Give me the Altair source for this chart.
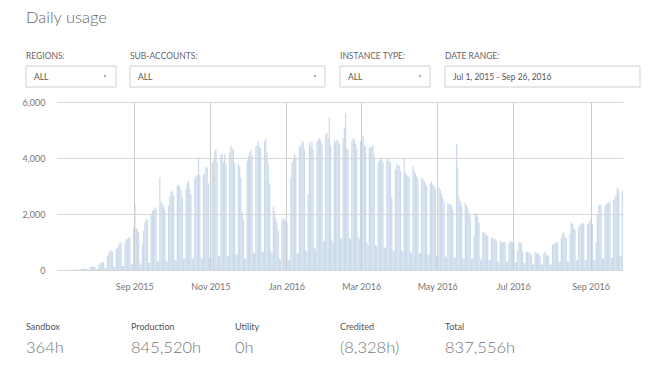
import altair as alt
import pandas as pd

# ---------------- data ----------------
START_DATE = "2015-07-01"
# Jul 1 - Jul 5, 2015 (Wed-Sun)
FIRST_DAYS = [2, 3, 3, 1, 1]
# one row per week, Monday..Sunday, starting Mon Jul 6, 2015
WEEKLY_HOURS = [
    [4, 5, 6, 6, 5, 2, 2],
    [10, 12, 15, 18, 16, 4, 4],
    [30, 35, 40, 50, 45, 10, 10],
    [80, 100, 120, 130, 110, 30, 30],
    [180, 220, 260, 300, 250, 60, 60],
    [500, 600, 680, 700, 650, 120, 120],
    [750, 800, 900, 1000, 950, 150, 150],
    [950, 1100, 1100, 1150, 1150, 200, 200],
    [1500, 2350, 1500, 1450, 1350, 250, 200],
    [900, 1400, 1700, 1800, 1800, 250, 250],
    [2000, 2100, 2150, 2250, 2200, 300, 300],
    [3300, 2450, 2350, 2250, 2150, 350, 300],
    [2300, 2600, 2800, 2800, 2650, 350, 350],
    [3000, 3050, 2950, 2850, 2600, 400, 400],
    [2900, 3100, 3200, 2900, 2700, 400, 400],
    [3300, 3350, 3400, 4050, 3400, 450, 400],
    [3400, 3450, 3700, 3650, 3100, 450, 450],
    [3800, 3900, 4250, 4300, 3850, 500, 500],
    [4100, 4150, 3850, 4150, 3800, 500, 500],
    [4200, 4450, 4300, 4350, 3800, 550, 550],
    [3800, 3700, 3300, 2100, 1800, 400, 400],
    [3900, 4050, 4200, 4300, 4100, 600, 600],
    [4400, 4450, 4600, 4400, 4350, 650, 650],
    [4600, 4700, 4200, 3800, 3100, 700, 600],
    [2250, 2100, 1850, 1700, 1400, 400, 350],
    [1800, 1850, 1800, 1750, 1700, 350, 350],
    [3300, 3850, 4000, 4150, 4050, 600, 600],
    [4400, 4450, 4600, 4550, 4300, 700, 650],
    [2700, 4550, 4400, 4600, 4300, 800, 750],
    [4600, 4650, 4700, 4650, 4500, 1000, 1050],
    [4850, 4900, 4700, 5450, 4450, 1100, 1000],
    [4650, 4550, 4650, 4600, 4500, 1150, 1100],
    [4700, 5100, 5600, 4350, 4300, 1150, 1100],
    [4600, 4700, 4650, 4500, 4300, 1200, 1100],
    [4600, 4700, 4800, 4450, 4400, 1000, 900],
    [4400, 4350, 4400, 4450, 4100, 900, 850],
    [3800, 3900, 4000, 3950, 3850, 800, 800],
    [3950, 4000, 3900, 3850, 2600, 700, 700],
    [3600, 3800, 3700, 3750, 3550, 700, 650],
    [4000, 3500, 3400, 3350, 3300, 650, 600],
    [3700, 3550, 3450, 3350, 3250, 600, 600],
    [3300, 3250, 3200, 3100, 3000, 550, 550],
    [3100, 3150, 3050, 3000, 2900, 500, 500],
    [2950, 2850, 2700, 2550, 2400, 500, 450],
    [2400, 2350, 2350, 2300, 2150, 450, 450],
    [4500, 3650, 2600, 2450, 2300, 450, 400],
    [2400, 2300, 2200, 2050, 1900, 400, 400],
    [1200, 2050, 2000, 1900, 1700, 400, 350],
    [1350, 1350, 1300, 1250, 1200, 350, 350],
    [1150, 1150, 1100, 1100, 1050, 300, 300],
    [1050, 1000, 1000, 1000, 980, 300, 300],
    [950, 1050, 1000, 980, 950, 280, 280],
    [700, 1000, 1000, 950, 650, 250, 250],
    [650, 650, 620, 600, 550, 200, 200],
    [650, 620, 600, 550, 480, 200, 200],
    [600, 650, 550, 520, 480, 200, 200],
    [900, 950, 950, 1000, 980, 300, 300],
    [1150, 1300, 1350, 1200, 1150, 300, 300],
    [1300, 1700, 1650, 1500, 1450, 350, 350],
    [1550, 1600, 1650, 1700, 1650, 350, 350],
    [1650, 1700, 1800, 1700, 1650, 350, 350],
    [1000, 2000, 2300, 2350, 2300, 400, 400],
    [2300, 2350, 2400, 2450, 2400, 450, 450],
    [2500, 2600, 2700, 2950, 2850, 500, 500],
]
# Mon Sep 26, 2016
LAST_DAYS = [2850]

Y_TICKS = [0, 2000, 4000, 6000]
X_TICK_MONTHS = [(2015, 9), (2015, 11), (2016, 1), (2016, 3), (2016, 5), (2016, 7), (2016, 9)]

TITLE = "Daily usage"
FILTER_LABELS = ["REGIONS:", "SUB-ACCOUNTS:", "INSTANCE TYPE:", "DATE RANGE:"]
FILTER_VALUES = ["ALL", "ALL", "ALL", "Jul 1, 2015 - Sep 26, 2016"]
STAT_LABELS = ["Sandbox", "Production", "Utility", "Credited", "Total"]
STAT_VALUES = ["364h", "845,520h", "0h", "(8,328h)", "837,556h"]

# ---------------- layout / style ----------------
FONT = "Lato"
BAR_COLOR = "#c9d9ea"
GRID_COLOR = "#d6d6d6"
W, H = 566, 168            # plot area
# positions in plot coordinates (origin = top-left of plot area)
FILTER_X = [-31, 73, 283, 388]
FILTER_X2 = [59, 268, 373, 583]
CARET_X = [48, 258, 363]
STAT_X = [-31, 74, 178, 283, 388]

hours = FIRST_DAYS + [v for wk in WEEKLY_HOURS for v in wk] + LAST_DAYS
dates = pd.date_range(START_DATE, periods=len(hours), freq="D")
df = pd.DataFrame({"date": dates, "end": dates + pd.Timedelta(days=1), "hours": hours})

px = lambda f: alt.X(f, scale=None, axis=None)
py = lambda f: alt.Y(f, scale=None, axis=None)

bars = alt.Chart(df).mark_rect(color=BAR_COLOR, strokeWidth=0, opacity=0.95).encode(
    x=alt.X(
        "date:T",
        scale=alt.Scale(domain=[alt.DateTime(year=2015, month=7, date=1),
                                alt.DateTime(year=2016, month=9, date=27)]),
        axis=alt.Axis(
            values=[alt.DateTime(year=y, month=m, date=1) for y, m in X_TICK_MONTHS],
            format="%b %Y", title=None, grid=True, gridColor="#cccccc", domain=False,
            ticks=False, labelPadding=12, labelFontSize=9, labelColor="#777777",
            labelFont=FONT, zindex=1,
        ),
    ),
    x2="end:T",
    y=alt.Y(
        "hours:Q",
        scale=alt.Scale(domain=[0, 6000]),
        axis=alt.Axis(
            values=Y_TICKS, format=",.0f", title=None, grid=True, gridColor=GRID_COLOR,
            domain=False, ticks=False, labelPadding=12, labelFontSize=9,
            labelColor="#777777", labelFont=FONT, zindex=1,
        ),
    ),
    y2=alt.datum(0),
)

title_df = pd.DataFrame({"label": [TITLE], "x": [-31], "y": [-84]})
title = alt.Chart(title_df).mark_text(
    align="left", baseline="middle", fontSize=16.5, color="#666666", font=FONT, fontWeight=300
).encode(x=px("x:Q"), y=py("y:Q"), text="label:N")

flab_df = pd.DataFrame({"label": FILTER_LABELS, "x": FILTER_X, "y": [-46] * 4})
flab = alt.Chart(flab_df).mark_text(
    align="left", baseline="middle", fontSize=8.5, color="#666666", font=FONT
).encode(x=px("x:Q"), y=py("y:Q"), text="label:N")

box_df = pd.DataFrame({"x": FILTER_X, "x2": FILTER_X2, "y": [-36] * 4, "y2": [-15] * 4})
boxes = alt.Chart(box_df).mark_rect(fill="white", stroke="#d0d0d0", strokeWidth=1).encode(
    x=px("x:Q"), x2="x2:Q", y=py("y:Q"), y2="y2:Q"
)

fval_df = pd.DataFrame({"label": FILTER_VALUES, "x": [x + 8 for x in FILTER_X], "y": [-25.5] * 4})
fval = alt.Chart(fval_df).mark_text(
    align="left", baseline="middle", fontSize=8.5, color="#555555", font=FONT
).encode(x=px("x:Q"), y=py("y:Q"), text="label:N")

caret_df = pd.DataFrame({"x": CARET_X, "y": [-25.5] * 3})
carets = alt.Chart(caret_df).mark_point(
    shape="triangle-down", filled=True, size=10, color="#999999", opacity=1
).encode(x=px("x:Q"), y=py("y:Q"))

slab_df = pd.DataFrame({"label": STAT_LABELS, "x": STAT_X, "y": [225] * 5})
slab = alt.Chart(slab_df).mark_text(
    align="left", baseline="middle", fontSize=9, color="#555555", font=FONT
).encode(x=px("x:Q"), y=py("y:Q"), text="label:N")

sval_df = pd.DataFrame({"label": STAT_VALUES, "x": STAT_X, "y": [246] * 5})
sval = alt.Chart(sval_df).mark_text(
    align="left", baseline="middle", fontSize=16.5, color="#777777", font=FONT, fontWeight=300
).encode(x=px("x:Q"), y=py("y:Q"), text="label:N")

chart = (
    alt.layer(bars, title, flab, boxes, fval, carets, slab, sval)
    .resolve_scale(x="independent", y="independent")
    .properties(
        width=W, height=H,
        autosize=alt.AutoSizeParams(type="none"),
        padding={"left": 49, "top": 94, "right": 20, "bottom": 90},
        background="white",
    )
    .configure_view(stroke=None)
)

chart.save("out.html", embed_options={"renderer": "svg", "actions": False})
